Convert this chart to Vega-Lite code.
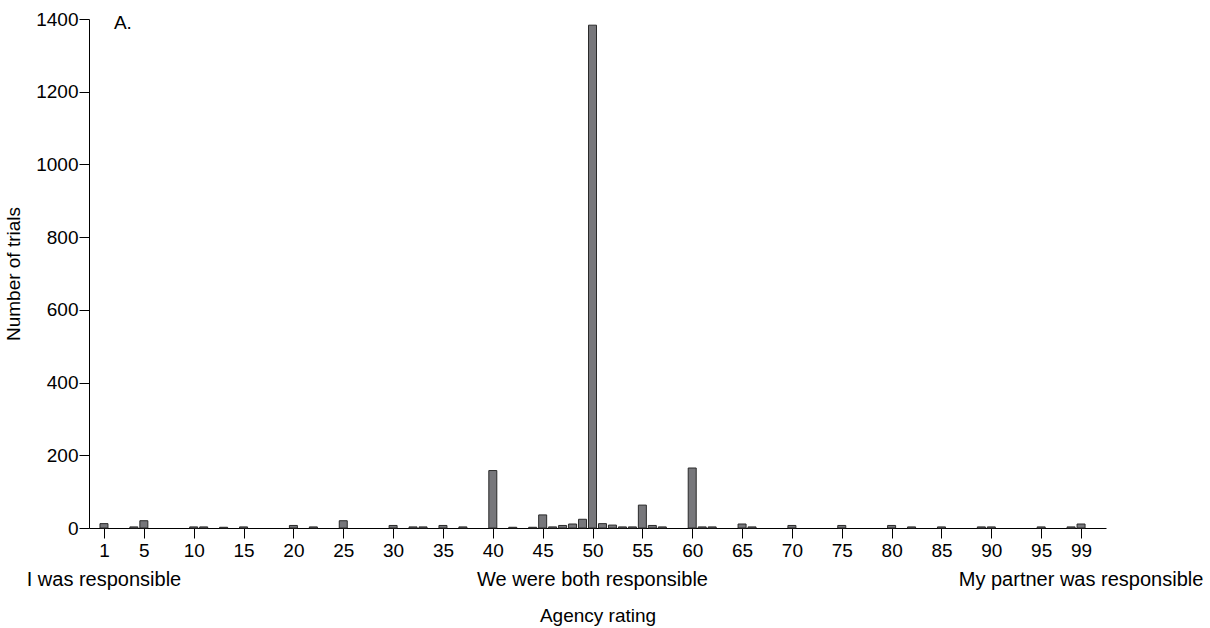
{
  "$schema": "https://vega.github.io/schema/vega-lite/v6.json",
  "width": 1017,
  "height": 509,
  "autosize": "none",
  "padding": {"left": 89, "top": 19, "right": 104, "bottom": 100},
  "background": "white",
  "config": {
    "view": {"stroke": null},
    "font": "Liberation Sans",
    "axis": {"grid": false, "domainColor": "#000", "tickColor": "#000", "labelColor": "#000", "titleColor": "#000", "labelFont": "Liberation Sans", "titleFont": "Liberation Sans", "labelFontSize": 19, "titleFontSize": 19, "titleFontWeight": "normal", "tickSize": 10, "domainWidth": 1, "tickWidth": 1}
  },
  "datasets": {
    "counts": [
      {"rating": 1, "trials": 12}, {"rating": 4, "trials": 3}, {"rating": 5, "trials": 20},
      {"rating": 10, "trials": 3}, {"rating": 11, "trials": 3}, {"rating": 13, "trials": 2},
      {"rating": 15, "trials": 3}, {"rating": 20, "trials": 7}, {"rating": 22, "trials": 3},
      {"rating": 25, "trials": 20}, {"rating": 30, "trials": 7}, {"rating": 32, "trials": 3},
      {"rating": 33, "trials": 3}, {"rating": 35, "trials": 7}, {"rating": 37, "trials": 3},
      {"rating": 40, "trials": 158}, {"rating": 42, "trials": 2}, {"rating": 44, "trials": 2},
      {"rating": 45, "trials": 36}, {"rating": 46, "trials": 3}, {"rating": 47, "trials": 7},
      {"rating": 48, "trials": 11}, {"rating": 49, "trials": 24}, {"rating": 50, "trials": 1383},
      {"rating": 51, "trials": 12}, {"rating": 52, "trials": 8}, {"rating": 53, "trials": 3},
      {"rating": 54, "trials": 3}, {"rating": 55, "trials": 63}, {"rating": 56, "trials": 7},
      {"rating": 57, "trials": 3}, {"rating": 60, "trials": 165}, {"rating": 61, "trials": 3},
      {"rating": 62, "trials": 3}, {"rating": 65, "trials": 11}, {"rating": 66, "trials": 3},
      {"rating": 70, "trials": 7}, {"rating": 75, "trials": 7}, {"rating": 80, "trials": 7},
      {"rating": 82, "trials": 3}, {"rating": 85, "trials": 3}, {"rating": 89, "trials": 3},
      {"rating": 90, "trials": 3}, {"rating": 95, "trials": 3}, {"rating": 98, "trials": 3},
      {"rating": 99, "trials": 11}
    ],
    "anchors": [
      {"rating": 1, "label": "I was responsible"},
      {"rating": 50, "label": "We were both responsible"},
      {"rating": 99, "label": "My partner was responsible"}
    ],
    "panel": [{"rating": 2, "trials": 1400, "label": "A."}]
  },
  "layer": [
    {
      "data": {"name": "counts"},
      "mark": {"type": "bar", "size": 8, "fill": "#77777b", "stroke": "#2a2a2a", "strokeWidth": 1},
      "encoding": {
        "x": {"field": "rating", "type": "quantitative", "scale": {"domain": [0, 101], "nice": false, "zero": false},
          "axis": {"values": [1,5,10,15,20,25,30,35,40,45,50,55,60,65,70,75,80,85,90,95,99], "title": "Agency rating", "titlePadding": 46, "labelPadding": 3}},
        "y": {"field": "trials", "type": "quantitative", "scale": {"domain": [0, 1400], "nice": false},
          "axis": {"values": [0,200,400,600,800,1000,1200,1400], "format": "d", "title": "Number of trials", "titlePadding": 12, "labelPadding": 1}}
      }
    },
    {
      "data": {"name": "anchors"},
      "mark": {"type": "text", "fontSize": 20, "font": "Liberation Sans", "color": "#000", "align": "center", "baseline": "middle", "dy": 52},
      "encoding": {
        "x": {"field": "rating", "type": "quantitative"},
        "y": {"datum": 0},
        "text": {"field": "label"}
      }
    },
    {
      "data": {"name": "panel"},
      "mark": {"type": "text", "fontSize": 19, "font": "Liberation Sans", "color": "#000", "align": "left", "baseline": "middle", "dy": 4},
      "encoding": {
        "x": {"field": "rating", "type": "quantitative"},
        "y": {"field": "trials", "type": "quantitative"},
        "text": {"field": "label"}
      }
    }
  ]
}
